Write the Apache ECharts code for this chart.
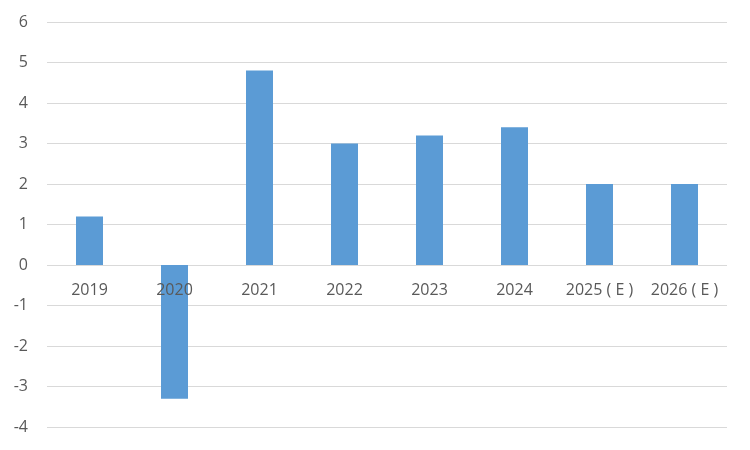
<!DOCTYPE html>
<html>
<head>
<meta charset="utf-8">
<script src="https://cdn.jsdelivr.net/npm/echarts@6/dist/echarts.min.js"></script>
<style>html,body{margin:0;padding:0;background:#fff}#c{width:750px;height:450px}</style>
</head>
<body>
<div id="c"></div>
<script>
var categories = ['2019', '2020', '2021', '2022', '2023', '2024', '2025 ( E )', '2026 ( E )'];
var values = [1.2, -3.3, 4.8, 3.0, 3.2, 3.4, 2.0, 2.0];
var labelBaseline = [0, 0, 0, 0, 0, 0, 0, 0];
var yTicks = { min: -4, max: 6, interval: 1 };

var FONT = 'Open Sans, Liberation Sans, sans-serif';
var chart = echarts.init(document.getElementById('c'), null, { renderer: 'canvas' });
chart.setOption({
  animation: false,
  backgroundColor: '#ffffff',
  grid: { left: 47, right: 23, top: 22, bottom: 23, containLabel: false, outerBoundsMode: 'none' },
  xAxis: {
    type: 'category',
    data: categories,
    axisLine: { show: false },
    axisTick: { show: false },
    axisLabel: { show: false }
  },
  yAxis: {
    type: 'value',
    min: yTicks.min, max: yTicks.max, interval: yTicks.interval,
    axisLine: { show: false },
    axisTick: { show: false },
    splitLine: { lineStyle: { color: '#d9d9d9', width: 1 } },
    axisLabel: { color: '#595959', fontSize: 16, fontFamily: FONT, margin: 19 }
  },
  series: [{
    type: 'bar',
    data: values,
    barWidth: 27,
    itemStyle: { color: '#5b9bd5' },
    z: 2
  }, {
    type: 'scatter',
    data: labelBaseline,
    symbolSize: 0,
    silent: true,
    z: 3,
    itemStyle: { opacity: 1 },
    label: {
      show: true,
      position: 'inside',
      offset: [0, 25],
      opacity: 1,
      formatter: function (p) { return p.name; },
      color: '#595959', fontSize: 16, fontFamily: FONT
    }
  }]
});
</script>
</body>
</html>
